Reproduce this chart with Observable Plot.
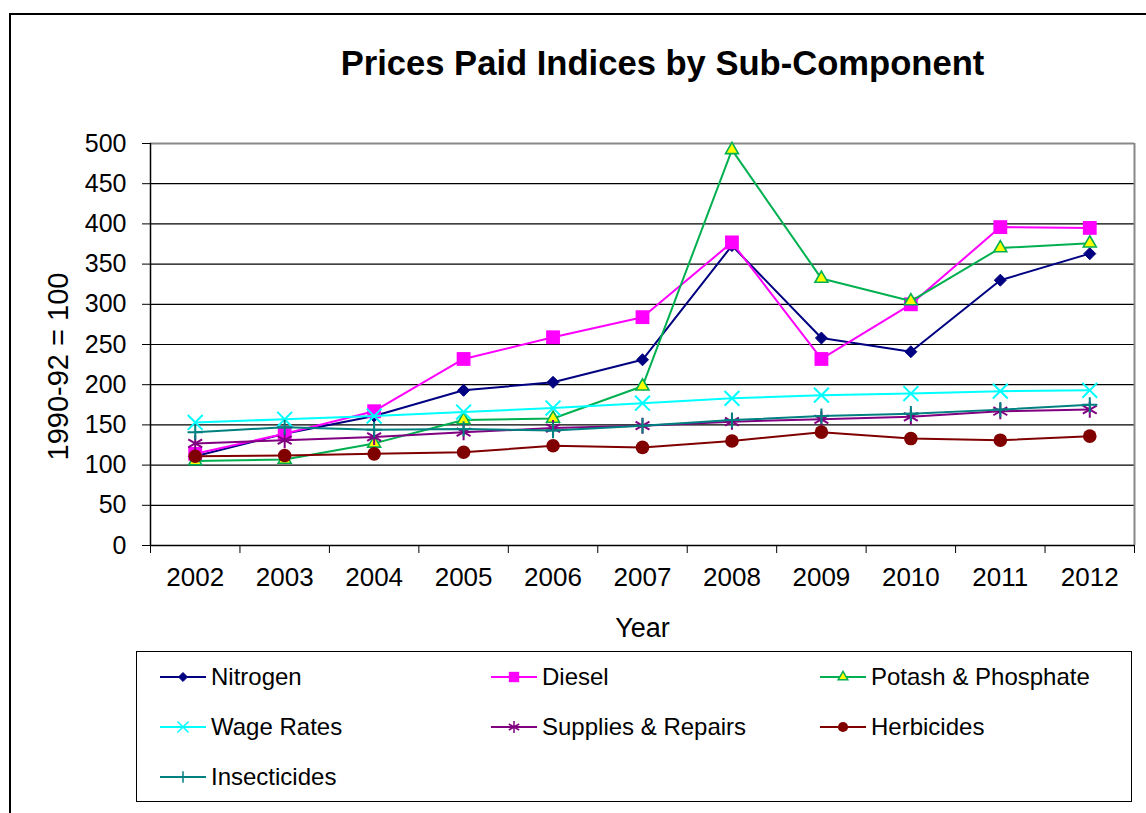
<!DOCTYPE html>
<html>
<head>
<meta charset="utf-8">
<script src="https://cdn.jsdelivr.net/npm/d3@7"></script>
<script src="https://cdn.jsdelivr.net/npm/@observablehq/plot@0.6"></script>
<style>
  body { margin: 0; background: #fff; font-family: "Liberation Sans", Arial, sans-serif; }
  #wrap { position: relative; width: 1146px; height: 813px; overflow: hidden; background: #fff; }
  #outer { position: absolute; left: 9px; top: 13px; width: 1300px; height: 1000px;
           border-top: 2px solid #000; border-left: 2px solid #000; }
  #chart { position: absolute; left: 0; top: 0; }
  #title { position: absolute; left: 0; top: 46px; width: 1325px; text-align: center;
           font-size: 34.6px; line-height: 34px; font-weight: bold; color: #000; white-space: nowrap; }
  #legend { position: absolute; left: 136px; top: 651px; width: 996px; height: 151px;
            border: 1px solid #000; box-sizing: border-box; }
  .item { position: absolute; height: 24px; }
  .item svg { position: absolute; left: 0; top: 0; }
  .item span { position: absolute; left: 53px; top: 0; font-size: 24px; line-height: 24px; white-space: nowrap; color: #000; }
</style>
</head>
<body>
<div id="wrap">
  <div id="outer"></div>
  <div id="chart"></div>
  <div id="title">Prices Paid Indices by Sub-Component</div>
  <div id="legend"></div>
</div>
<script>
// ---- Data ----
const years = [2002, 2003, 2004, 2005, 2006, 2007, 2008, 2009, 2010, 2011, 2012];
const seriesNames = ["Nitrogen", "Diesel", "Potash & Phosphate", "Wage Rates", "Supplies & Repairs", "Herbicides", "Insecticides"];
const nitrogen     = [111, 139, 161, 193, 203, 231, 373, 258, 241, 330, 363];
const diesel       = [114, 139, 167, 232, 259, 284, 377, 232, 300, 396, 395];
const potash       = [105, 107, 127, 156, 158, 198, 492, 332, 304, 370, 376];
const wageRates    = [153, 157, 161, 166, 171, 177, 183, 187, 189, 192, 193];
const supplies     = [127, 131, 135, 141, 146, 149, 154, 157, 160, 167, 169];
const herbicides   = [111, 112, 114, 116, 124, 122, 130, 141, 133, 131, 136];
const insecticides = [141, 147, 144, 145, 143, 149, 156, 161, 164, 169, 175];
const yTicks = [0, 50, 100, 150, 200, 250, 300, 350, 400, 450, 500];
const xTitle = "Year";
const yTitle = "1990-92 = 100";
const chartTitle = "Prices Paid Indices by Sub-Component";

// ---- Styles ----
const seriesValues = [nitrogen, diesel, potash, wageRates, supplies, herbicides, insecticides];
const styles = [
  {color: "#000080", symbol: "diamond2", r: 5.4, fill: "#000080", stroke: "#000080", sw: 1},
  {color: "#FF00FF", symbol: "square",   r: 7.8, fill: "#FF00FF", stroke: "none", sw: 0},
  {color: "#00B050", symbol: "triangle", r: 4.8, fill: "#FFFF00", stroke: "#00B050", sw: 1.6},
  {color: "#00FFFF", symbol: "times",    r: 6.8, fill: "none", stroke: "#00FFFF", sw: 2},
  {color: "#800080", symbol: "asterisk", r: 7.6, fill: "none", stroke: "#800080", sw: 2},
  {color: "#800000", symbol: "circle",   r: 6.8, fill: "#800000", stroke: "none", sw: 0},
  {color: "#008080", symbol: "plus",     r: 5.0, fill: "none", stroke: "#008080", sw: 2}
];

const font = '"Liberation Sans", Arial, sans-serif';
const halfYears = d3.range(years[0] - 0.5, years[years.length - 1] + 1, 1);
const xMin = years[0] - 0.5, xMax = years[years.length - 1] + 0.5;

const marks = [
  Plot.ruleY(yTicks.filter(v => v > 0 && v < 500), {stroke: "#000", strokeWidth: 1.2}),
  Plot.ruleY([500], {stroke: "#888", strokeWidth: 2}),
  Plot.ruleX([xMax], {stroke: "#888", strokeWidth: 2}),
  Plot.ruleX([xMin], {stroke: "#000", strokeWidth: 1.5}),
  Plot.ruleY([0], {stroke: "#000", strokeWidth: 1.5}),
  Plot.axisY(yTicks, {tickSize: 8, tickPadding: 16, fontSize: 25, label: null, stroke: "#000"}),
  Plot.axisX(halfYears, {tickSize: 8, tickFormat: () => "", label: null, stroke: "#000"}),
  Plot.axisX(years, {tickSize: 0, tickPadding: 22, fontSize: 26, tickFormat: d => String(d), label: null}),
  Plot.text([yTitle], {text: d => d, frameAnchor: "left", textAnchor: "middle", rotate: -90, dx: -92, dy: 22, fontSize: 29, fill: "#000"}),
  Plot.text([xTitle], {text: d => d, frameAnchor: "bottom", dy: 91, fontSize: 27, fill: "#000"})
];

seriesValues.forEach((vals, i) => {
  const s = styles[i];
  const data = years.map((y, j) => ({year: y, value: vals[j], series: seriesNames[i]}));
  marks.push(Plot.line(data, {x: "year", y: "value", stroke: s.color, strokeWidth: 2}));
  marks.push(Plot.dot(data, {x: "year", y: "value", symbol: s.symbol, r: s.r,
    fill: s.fill, stroke: s.stroke, strokeWidth: s.sw}));
});

const chart = Plot.plot({
  width: 1146,
  height: 813,
  marginTop: 143,
  marginLeft: 150,
  marginRight: 12,
  marginBottom: 268,
  style: {fontFamily: font, background: "transparent", color: "#000", overflow: "visible"},
  x: {domain: [xMin, xMax], label: null},
  y: {domain: [0, 500], label: null},
  marks
});
document.getElementById("chart").appendChild(chart);
document.getElementById("title").textContent = chartTitle;

// ---- Legend ----
const legend = document.getElementById("legend");
const colX = [183, 514, 843];
const rowY = [677, 727, 777];
const symMap = {diamond2: d3.symbolDiamond2, square: d3.symbolSquare, triangle: d3.symbolTriangle,
  times: d3.symbolTimes, asterisk: d3.symbolAsterisk, circle: d3.symbolCircle, plus: d3.symbolPlus};
seriesNames.forEach((name, i) => {
  const s = styles[i];
  const cx = colX[i % 3], cy = rowY[Math.floor(i / 3)];
  const item = document.createElement("div");
  item.className = "item";
  item.style.left = (cx - 25 - 136 - 1) + "px";
  item.style.top = (cy - 12 - 651 - 1) + "px";
  const ns = "http://www.w3.org/2000/svg";
  const svg = document.createElementNS(ns, "svg");
  svg.setAttribute("width", 50); svg.setAttribute("height", 24);
  const line = document.createElementNS(ns, "line");
  line.setAttribute("x1", 2); line.setAttribute("x2", 48);
  line.setAttribute("y1", 12); line.setAttribute("y2", 12);
  line.setAttribute("stroke", s.color); line.setAttribute("stroke-width", 2);
  svg.appendChild(line);
  const path = document.createElementNS(ns, "path");
  const size = Math.PI * (s.r * 0.75) * (s.r * 0.75);
  path.setAttribute("d", d3.symbol(symMap[s.symbol], size)());
  path.setAttribute("transform", "translate(25,12)");
  path.setAttribute("fill", s.fill);
  path.setAttribute("stroke", s.stroke);
  path.setAttribute("stroke-width", s.sw ? Math.min(s.sw, 1.5) : 0);
  svg.appendChild(path);
  item.appendChild(svg);
  const span = document.createElement("span");
  span.textContent = name;
  item.appendChild(span);
  legend.appendChild(item);
});
</script>
</body>
</html>
